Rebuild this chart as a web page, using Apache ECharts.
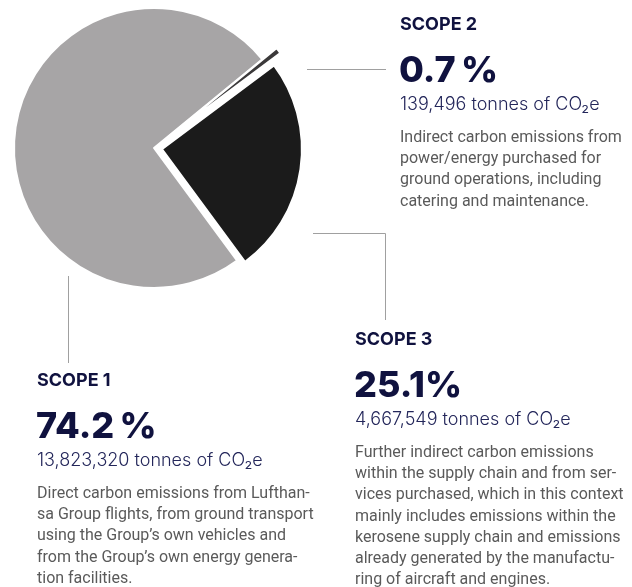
<!DOCTYPE html>
<html>
<head>
<meta charset="utf-8">
<script src="https://cdn.jsdelivr.net/npm/echarts@6/dist/echarts.min.js"></script>
<style>
  html, body { margin: 0; padding: 0; background: #ffffff; }
  #chart { width: 632px; height: 587px; }
</style>
</head>
<body>
<div id="chart"></div>
<script>
// Lufthansa Group CO2e emissions by scope
const scopeNames = ['SCOPE 1', 'SCOPE 2', 'SCOPE 3'];
const sharePct = [74.2, 0.7, 25.1];
const tonnesCO2e = [13823320, 139496, 4667549];
const descriptions = [
  ['Direct carbon emissions from Lufthan-',
   'sa Group flights, from ground transport',
   'using the Group\u2019s own vehicles and',
   'from the Group\u2019s own energy genera-',
   'tion facilities.'],
  ['Indirect carbon emissions from',
   'power/energy purchased for',
   'ground operations, including',
   'catering and maintenance.'],
  ['Further indirect carbon emissions',
   'within the supply chain and from ser-',
   'vices purchased, which in this context',
   'mainly includes emissions within the',
   'kerosene supply chain and emissions',
   'already generated by the manufactu-',
   'ring of aircraft and engines.']
];
// percentage labels: the first two use a thin space before the sign
const pctLabels = ['74.2\u2009%', '0.7\u2009%', '25.1%'];

// slice order clockwise from the start angle: scope 2, scope 3, scope 1
const sliceOrder = [1, 2, 0];

const sliceColors = ['#a7a5a6', '#3b393a', '#1b1b1b'];
const NAVY = '#10123f';
const NAVY_LIGHT = '#23265a';
const BODY = '#5a5a5a';
const LINE = '#a0a0a0';
const PIE_CENTER = [154, 148];
const PIE_R = 140;
const START = 39.3;

function sliceData(visible, selected) {
  return sliceOrder.map(function (i) {
    const show = visible.indexOf(i) >= 0;
    const style = show
      ? { color: sliceColors[i], borderColor: '#ffffff', borderWidth: 2 }
      : { color: 'rgba(0,0,0,0)', borderColor: 'rgba(0,0,0,0)', borderWidth: 0 };
    return {
      name: scopeNames[i],
      value: sharePct[i],
      selected: selected.indexOf(i) >= 0,
      itemStyle: style,
      select: { itemStyle: style }
    };
  });
}

function pieSeries(visible, selected, offset) {
  return {
    type: 'pie',
    center: PIE_CENTER,
    radius: [0, PIE_R],
    startAngle: START,
    clockwise: true,
    minAngle: 0,
    avoidLabelOverlap: false,
    selectedMode: 'multiple',
    selectedOffset: offset,
    silent: true,
    label: { show: false },
    labelLine: { show: false },
    emphasis: { disabled: true },
    data: sliceData(visible, selected)
  };
}

function fmt(n) { return n.toLocaleString('en-US'); }

// one text block per scope: heading, share, tonnage, description
function block(i, x, y) {
  const heading = { type: 'text', style: { text: scopeNames[i], x: x, y: y,
    font: '700 18px Inter', fill: NAVY, verticalAlign: 'middle' } };
  const pct = { type: 'text', style: { text: pctLabels[i], x: x - 1, y: y + 46,
    font: '800 36px Inter', fill: NAVY, verticalAlign: 'middle' } };
  const tons = { type: 'text', style: { text: fmt(tonnesCO2e[i]) + ' tonnes of CO\u2082e', x: x, y: y + 80,
    font: '300 18px Inter', fill: NAVY_LIGHT, verticalAlign: 'middle' } };
  const desc = { type: 'text', style: { text: descriptions[i].join('\n'), x: x, y: y + 113 - 10.6,
    font: '400 16px Roboto', lineHeight: 21.2, fill: BODY, verticalAlign: 'top' } };
  return [heading, pct, tons, desc];
}

const chart = echarts.init(document.getElementById('chart'), null, { renderer: 'canvas' });

chart.setOption({
  animation: false,
  backgroundColor: '#ffffff',
  series: [
    pieSeries([0, 2], [2], 8),
    pieSeries([1], [1], 18)
  ],
  graphic: [].concat(
    // leader lines
    [
      { type: 'polyline', shape: { points: [[307, 69.5], [386, 69.5]] },
        style: { stroke: LINE, lineWidth: 1, fill: null } },
      { type: 'polyline', shape: { points: [[313, 233.5], [385.5, 233.5], [385.5, 320]] },
        style: { stroke: LINE, lineWidth: 1, fill: null } },
      { type: 'polyline', shape: { points: [[68.5, 276], [68.5, 363]] },
        style: { stroke: LINE, lineWidth: 1, fill: null } }
    ],
    block(1, 400, 25),
    block(2, 355, 340),
    block(0, 37, 381)
  )
});
</script>
</body>
</html>
